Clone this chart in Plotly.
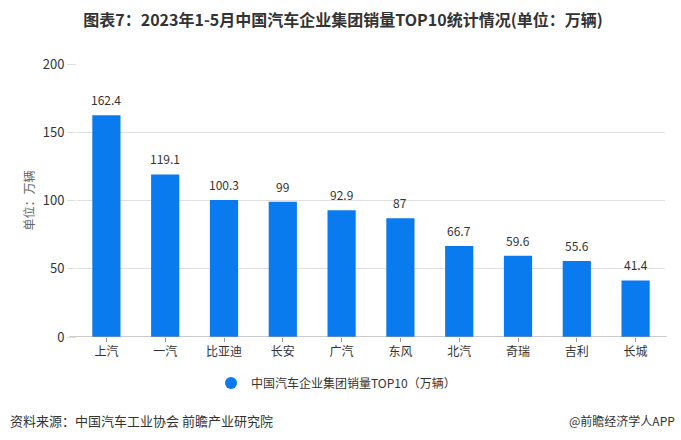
import plotly.graph_objects as go

categories = ["上汽", "一汽", "比亚迪", "长安", "广汽", "东风", "北汽", "奇瑞", "吉利", "长城"]
sales = [162.4, 119.1, 100.3, 99, 92.9, 87, 66.7, 59.6, 55.6, 41.4]
value_labels = ["162.4", "119.1", "100.3", "99", "92.9", "87", "66.7", "59.6", "55.6", "41.4"]
y_ticks = [0, 50, 100, 150, 200]

FONT = "Noto Sans CJK SC"
BAR = "#0A7BEF"

fig = go.Figure()
fig.add_trace(go.Bar(
    x=categories, y=sales, name="中国汽车企业集团销量TOP10（万辆）",
    marker=dict(color=BAR, line=dict(width=0)),
    showlegend=False, width=0.48,
))
# legend proxy with circular marker
fig.add_trace(go.Scatter(
    x=[None], y=[None], mode="markers", name="中国汽车企业集团销量TOP10（万辆）",
    marker=dict(symbol="circle", size=12, color=BAR), showlegend=True,
))

for c, v, t in zip(categories, sales, value_labels):
    fig.add_annotation(x=c, y=v, text=t, showarrow=False, yanchor="bottom", yshift=5,
                       font=dict(size=12, color="#333333", family=FONT))

fig.update_layout(
    width=681, height=440,
    margin=dict(l=77, r=16, t=64, b=103, autoexpand=False),
    paper_bgcolor="white", plot_bgcolor="white",
    font=dict(family=FONT, color="#333333", size=12),
    title=dict(
        text="<b>图表7：2023年1-5月中国汽车企业集团销量TOP10统计情况(单位：万辆)</b>",
        x=343 / 681, xanchor="center", xref="container", y=1 - 20 / 440, yref="container", yanchor="middle",
        font=dict(size=16, color="#333333", family=FONT),
    ),
    showlegend=True,
    legend=dict(
        orientation="h", x=336 / 681, xanchor="center", xref="container",
        y=1 - 383 / 440, yref="container", yanchor="middle",
        font=dict(size=12, color="#333333", family=FONT),
        itemwidth=30,
    ),
    xaxis=dict(
        showgrid=False, showline=False, ticks="outside", ticklen=4,
        tickcolor="#999999", tickfont=dict(size=12, color="#333333"),
        automargin=False,
    ),
    yaxis=dict(
        range=[0, 200], tickvals=y_ticks, showgrid=True, gridcolor="#E0E0E0",
        zeroline=False, showline=False, ticks="outside", ticklen=9,
        tickcolor="#E0E0E0", tickfont=dict(size=13, color="#333333"),
        title=dict(text="单位：万辆", font=dict(size=12, color="#666666"), standoff=5),
        automargin=False,
    ),
)

# x axis baseline
fig.add_shape(type="line", xref="paper", yref="y", x0=-0.013, x1=1.003, y0=0, y1=0,
              line=dict(color="#999999", width=1))

fig.add_annotation(text="资料来源：中国汽车工业协会 前瞻产业研究院", xref="paper", yref="paper",
                   x=-0.118, xanchor="left", y=-0.305, yanchor="middle", showarrow=False,
                   font=dict(size=13, color="#333333", family=FONT))
fig.add_annotation(text="@前瞻经济学人APP", xref="paper", yref="paper",
                   x=1.02, xanchor="right", y=-0.305, yanchor="middle", showarrow=False,
                   font=dict(size=12, color="#333333", family=FONT))

fig.write_html("out.html", config={"displayModeBar": False},
               post_script="document.body.style.margin='0';")
